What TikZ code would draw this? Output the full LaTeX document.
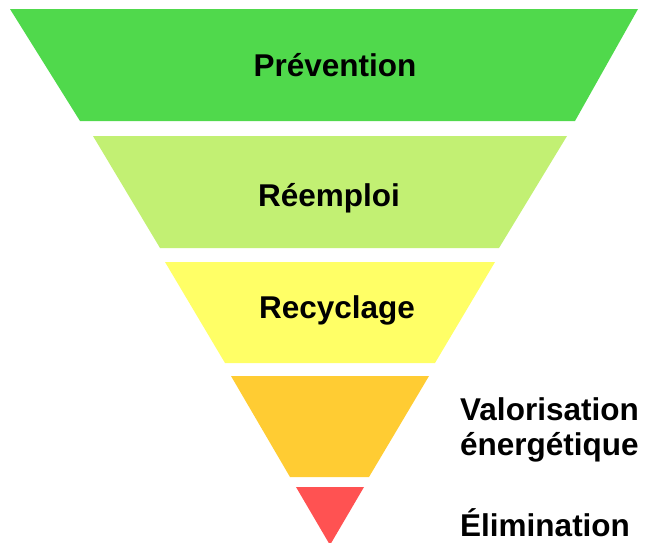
\documentclass[tikz,border=0pt]{standalone}
\usepackage{fontspec}
\setmainfont{Liberation Sans}
\usepackage{tikz}

\definecolor{prevgreen}{RGB}{80,217,76}
\definecolor{reusegreen}{RGB}{194,240,115}
\definecolor{recyyellow}{RGB}{255,255,102}
\definecolor{energyorange}{RGB}{255,204,51}
\definecolor{elimred}{RGB}{255,82,82}

\begin{document}
\begin{tikzpicture}[x=1pt,y=-1pt,
	lbl/.style={font=\fontsize{31.5}{35}\selectfont\bfseries, inner sep=0pt, anchor=base},
	side/.style={lbl, anchor=base west, align=left}]
		\clip (0,0) rectangle (645,542);
		\useasboundingbox (0,0) rectangle (645,542);

		\fill[prevgreen] (10,9) -- (638,9) -- (575,121) -- (80,121) -- cycle;
		\fill[reusegreen] (93,136) -- (567,136) -- (499,248) -- (160,248) -- cycle;
		\fill[recyyellow] (165,262) -- (495,262) -- (435,363) -- (225,363) -- cycle;
		\fill[energyorange] (231,376) -- (429,376) -- (369,477) -- (290,477) -- cycle;
		\fill[elimred] (296,487) -- (364,487) -- (330,545) -- cycle;

		\node[lbl] (prevention) at (335,76) {Prévention};
		\node[lbl] (reemploi) at (329,206) {Réemploi};
		\node[lbl] (recyclage) at (337,318) {Recyclage};
		\node[side] (valorisation) at (460,455) {Valorisation\\énergétique};
		\node[side] (elimination) at (460,536) {Élimination};
	\end{tikzpicture}
\end{document}
